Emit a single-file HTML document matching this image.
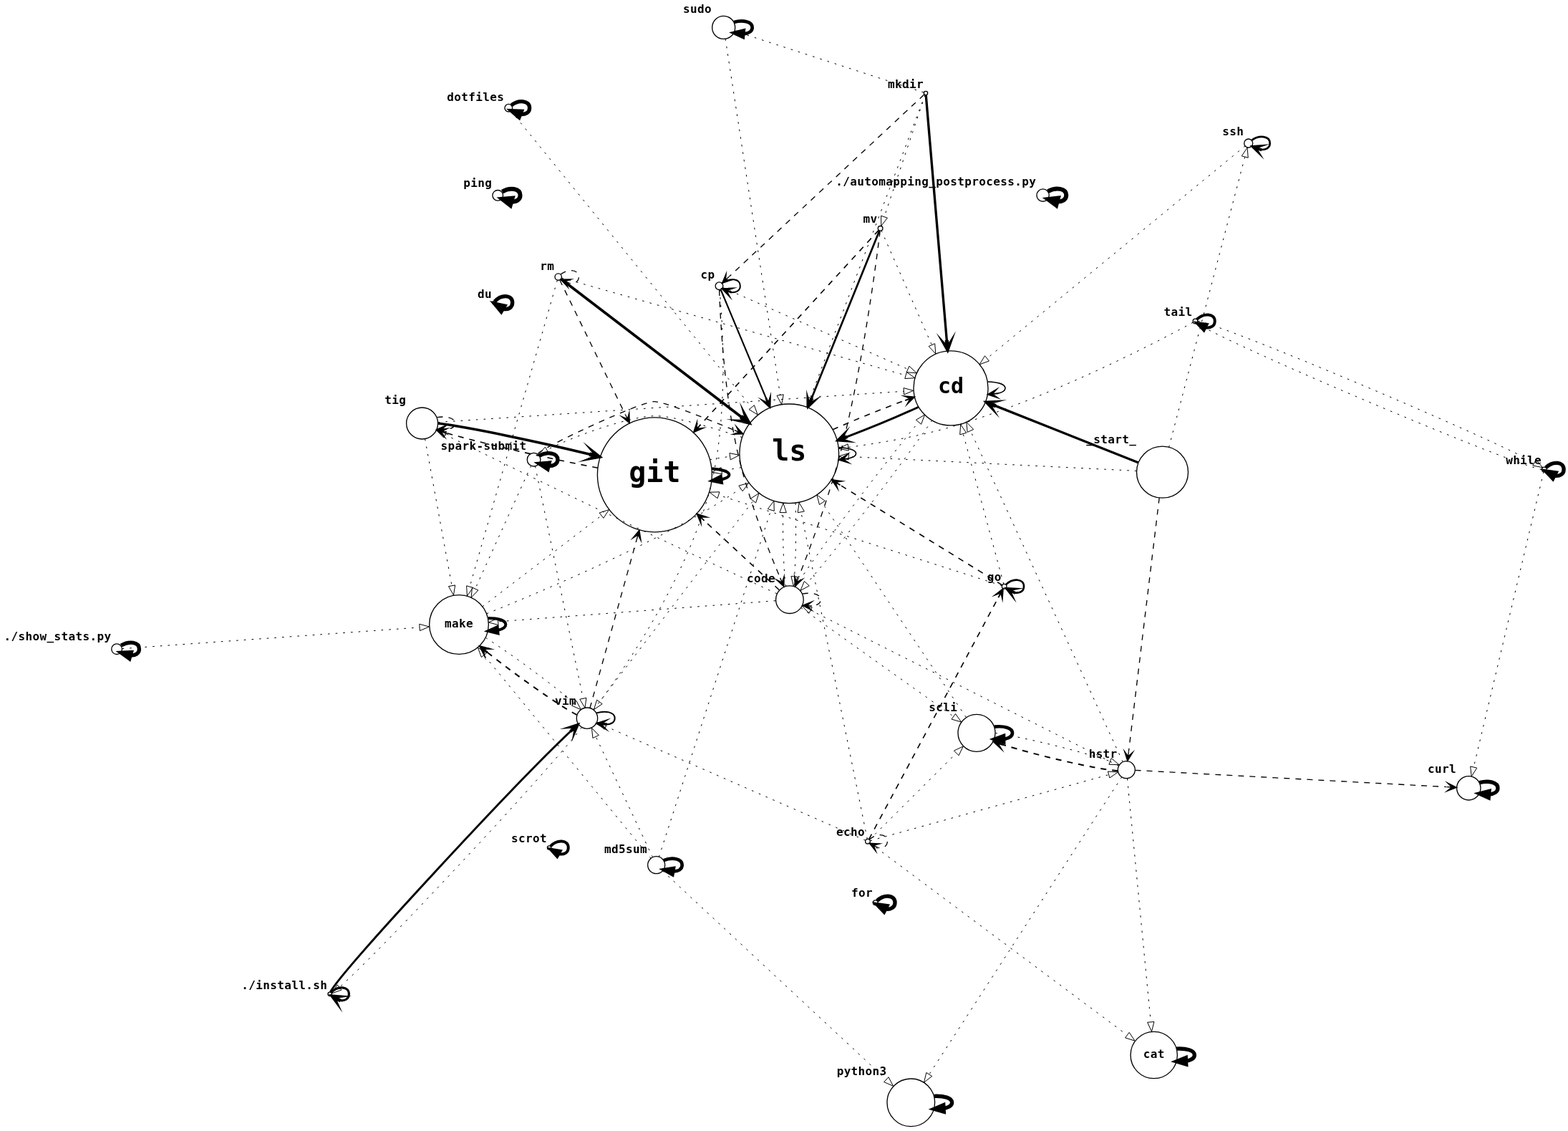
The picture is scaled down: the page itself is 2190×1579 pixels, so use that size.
<!DOCTYPE html>
<html lang="en">
<head>
<meta charset="utf-8">
<title>Command transition graph</title>
<style>
html,body{margin:0;padding:0;background:#fff;}
body{width:2190px;height:1579px;overflow:hidden;}
svg{display:block;}
svg *{stroke:#000;fill:none;stroke-miterlimit:10;}
svg polygon[fill="black"]{fill:#000;}
svg text.t{font-family:"DejaVu Sans Mono","Liberation Mono",monospace;font-weight:bold;fill:#000;stroke:none;-webkit-font-smoothing:antialiased;}
svg text.t[font-size="12.00"]{letter-spacing:0.275px;}
svg{will-change:transform;}
</style>
</head>
<body>
<svg xmlns="http://www.w3.org/2000/svg" width="2190" height="1579" viewBox="0 0 1642.5 1184.25">
<g transform="translate(116.825 1179.470)">
<g class="node">
<ellipse cx="641.2" cy="-1150.67" rx="12" ry="12"/>
<text text-anchor="middle" x="613.7" y="-1166.07" class="t" font-size="12.00">sudo</text>
</g>
<g class="node">
<ellipse cx="852.92" cy="-1081.97" rx="2" ry="2"/>
<text text-anchor="middle" x="831.92" y="-1087.37" class="t" font-size="12.00">mkdir</text>
</g>
<g class="node">
<ellipse cx="415.9" cy="-1066.45" rx="4" ry="4"/>
<text text-anchor="middle" x="381.4" y="-1073.85" class="t" font-size="12.00">dotfiles</text>
</g>
<g class="node">
<ellipse cx="404.61" cy="-974.87" rx="5.5" ry="5.5"/>
<text text-anchor="middle" x="383.61" y="-983.77" class="t" font-size="12.00">ping</text>
</g>
<g class="node">
<ellipse cx="400.45" cy="-862.52" rx="1.5" ry="1.5"/>
<text text-anchor="middle" x="390.95" y="-867.42" class="t" font-size="12.00">du</text>
</g>
<g class="node">
<ellipse cx="1190.95" cy="-1029.47" rx="4.5" ry="4.5"/>
<text text-anchor="middle" x="1174.95" y="-1037.37" class="t" font-size="12.00">ssh</text>
</g>
<g class="node">
<ellipse cx="975.63" cy="-975.02" rx="6.5" ry="6.5"/>
<text text-anchor="middle" x="863.63" y="-984.92" class="t" font-size="12.00">./automapping_postprocess.py</text>
</g>
<g class="node">
<ellipse cx="805.38" cy="-940.37" rx="2.5" ry="2.5"/>
<text text-anchor="middle" x="794.88" y="-946.27" class="t" font-size="12.00">mv</text>
</g>
<g class="node">
<ellipse cx="467.95" cy="-889.52" rx="3.5" ry="3.5"/>
<text text-anchor="middle" x="456.45" y="-896.42" class="t" font-size="12.00">rm</text>
</g>
<g class="node">
<ellipse cx="636.55" cy="-880.07" rx="4" ry="4"/>
<text text-anchor="middle" x="624.55" y="-887.47" class="t" font-size="12.00">cp</text>
</g>
<g class="node">
<ellipse cx="1135.23" cy="-843.17" rx="2.5" ry="2.5"/>
<text text-anchor="middle" x="1117.23" y="-849.07" class="t" font-size="12.00">tail</text>
</g>
<g class="node">
<ellipse cx="879.18" cy="-773.05" rx="39" ry="39"/>
<text text-anchor="middle" x="879.18" y="-767.55" class="t" font-size="22.50">cd</text>
</g>
<g class="node">
<ellipse cx="709.86" cy="-704.5" rx="52" ry="52"/>
<text text-anchor="middle" x="709.86" y="-697" class="t" font-size="30.00">ls</text>
</g>
<g class="node">
<ellipse cx="568.97" cy="-682.37" rx="60" ry="60"/>
<text text-anchor="middle" x="568.97" y="-674.87" class="t" font-size="30.00">git</text>
</g>
<g class="node">
<ellipse cx="325.38" cy="-736.22" rx="16.5" ry="16.5"/>
<text text-anchor="middle" x="297.38" y="-756.12" class="t" font-size="12.00">tig</text>
</g>
<g class="node">
<ellipse cx="442.38" cy="-698.2" rx="7" ry="7"/>
<text text-anchor="middle" x="389.88" y="-708.6" class="t" font-size="12.00">spark&#45;submit</text>
</g>
<g class="node">
<ellipse cx="1100.8" cy="-685.07" rx="27" ry="27"/>
<text text-anchor="middle" x="1047.3" y="-715.47" class="t" font-size="12.00">_start_</text>
</g>
<g class="node">
<ellipse cx="1500.77" cy="-687.92" rx="2.5" ry="2.5"/>
<text text-anchor="middle" x="1479.27" y="-693.82" class="t" font-size="12.00">while</text>
</g>
<g class="node">
<ellipse cx="363.93" cy="-525.47" rx="31" ry="31"/>
<text text-anchor="middle" x="363.93" y="-522.37" class="t" font-size="12.00">make</text>
</g>
<g class="node">
<ellipse cx="5.5" cy="-499.82" rx="5.5" ry="5.5"/>
<text text-anchor="middle" x="-56.5" y="-508.72" class="t" font-size="12.00">./show_stats.py</text>
</g>
<g class="node">
<ellipse cx="710.35" cy="-551.57" rx="14.5" ry="14.5"/>
<text text-anchor="middle" x="680.35" y="-569.47" class="t" font-size="12.00">code</text>
</g>
<g class="node">
<ellipse cx="935.2" cy="-565.45" rx="2.5" ry="2.5"/>
<text text-anchor="middle" x="924.7" y="-571.35" class="t" font-size="12.00">go</text>
</g>
<g class="node">
<ellipse cx="498.17" cy="-427.45" rx="11" ry="11"/>
<text text-anchor="middle" x="475.67" y="-441.85" class="t" font-size="12.00">vim</text>
</g>
<g class="node">
<ellipse cx="906.18" cy="-412" rx="19.5" ry="19.5"/>
<text text-anchor="middle" x="871.18" y="-434.9" class="t" font-size="12.00">scli</text>
</g>
<g class="node">
<ellipse cx="1063.15" cy="-373.45" rx="9" ry="9"/>
<text text-anchor="middle" x="1038.65" y="-385.85" class="t" font-size="12.00">hstr</text>
</g>
<g class="node">
<ellipse cx="1421.65" cy="-354.25" rx="12.5" ry="12.5"/>
<text text-anchor="middle" x="1393.65" y="-370.15" class="t" font-size="12.00">curl</text>
</g>
<g class="node">
<ellipse cx="1091.95" cy="-74.72" rx="24.5" ry="24.5"/>
<text text-anchor="middle" x="1091.95" y="-71.62" class="t" font-size="12.00">cat</text>
</g>
<g class="node">
<ellipse cx="837.4" cy="-25" rx="25" ry="25"/>
<text text-anchor="middle" x="785.9" y="-53.4" class="t" font-size="12.00">python3</text>
</g>
<g class="node">
<ellipse cx="792.17" cy="-298.45" rx="2.5" ry="2.5"/>
<text text-anchor="middle" x="774.17" y="-304.35" class="t" font-size="12.00">echo</text>
</g>
<g class="node">
<ellipse cx="800.2" cy="-234.32" rx="2.5" ry="2.5"/>
<text text-anchor="middle" x="786.2" y="-240.22" class="t" font-size="12.00">for</text>
</g>
<g class="node">
<ellipse cx="570.7" cy="-273.7" rx="9" ry="9"/>
<text text-anchor="middle" x="538.7" y="-286.1" class="t" font-size="12.00">md5sum</text>
</g>
<g class="node">
<ellipse cx="458.5" cy="-291.85" rx="2" ry="2"/>
<text text-anchor="middle" x="437.5" y="-297.25" class="t" font-size="12.00">scrot</text>
</g>
<g class="node">
<ellipse cx="228.7" cy="-138.62" rx="2" ry="2"/>
<text text-anchor="middle" x="181.2" y="-144.02" class="t" font-size="12.00">./install.sh</text>
</g>
<g class="edge">
<path stroke-width="3.5" d="M651.97,-1156.31C661.31,-1158.88 671.2,-1157 671.2,-1150.67 671.2,-1146.72 667.34,-1144.5 662.16,-1144.02"/>
<polygon fill="black" stroke-width="3.5" points="661.57,-1140.57 651.97,-1145.04 662.26,-1147.53 661.57,-1140.57"/>
</g>
<g class="edge">
<path stroke-width="0.75" stroke-dasharray="2,6" d="M643.04,-1138.74C651.14,-1086.11 683.98,-872.67 700.41,-765.92"/>
<polygon stroke-width="0.75" points="703.89,-766.34 701.95,-755.93 696.97,-765.28 703.89,-766.34"/>
</g>
<g class="edge">
<path stroke-width="0.75" stroke-dasharray="2,6" d="M850.55,-1082.75C832.14,-1088.72 711.71,-1127.8 662.3,-1143.83"/>
<polygon stroke-width="0.75" points="661.07,-1140.55 652.64,-1146.96 663.23,-1147.21 661.07,-1140.55"/>
</g>
<g class="edge">
<path stroke-width="0.75" stroke-dasharray="2,6" d="M852.25,-1079.97C847.61,-1066.15 820.17,-984.44 809.56,-952.84"/>
<polygon stroke-width="0.75" points="812.74,-951.31 806.24,-942.94 806.1,-953.54 812.74,-951.31"/>
</g>
<g class="edge">
<path stroke-dasharray="6,6" d="M851.05,-1080.23C832.89,-1063.28 687.69,-927.8 647.07,-889.9"/>
<polygon fill="black" points="639.6,-882.92 649.98,-886.45 643.25,-886.33 646.91,-889.74 646.91,-889.74 646.91,-889.74 643.25,-886.33 643.84,-893.03 639.6,-882.92 639.6,-882.92"/>
</g>
<g class="edge">
<path stroke-width="2.5" d="M853.12,-1079.67C854.88,-1058.91 868.1,-903.34 875.01,-822.11"/>
<polygon fill="black" stroke-width="2.5" points="875.86,-812.12 879.49,-822.46 876.18,-817.16 875.76,-822.14 875.01,-822.08 874.26,-822.02 874.68,-817.04 870.52,-821.7 875.86,-812.12 875.86,-812.12"/>
</g>
<g class="edge">
<path stroke-width="0.75" stroke-dasharray="2,6" d="M852.16,-1079.94C843.81,-1057.94 769.75,-862.52 731.91,-762.68"/>
<polygon stroke-width="0.75" points="735.18,-761.43 728.37,-753.32 728.64,-763.92 735.18,-761.43"/>
</g>
<g class="edge">
<path stroke-width="4" d="M418.95,-1069.4C426.67,-1075.31 437.9,-1074.32 437.9,-1066.45 437.9,-1061.53 433.51,-1059.3 428.34,-1059.76"/>
<polygon fill="black" stroke-width="4" points="426.95,-1056.55 418.95,-1063.5 429.54,-1063.05 426.95,-1056.55"/>
</g>
<g class="edge">
<path stroke-width="0.75" stroke-dasharray="2,6" d="M418.44,-1063.32C440.18,-1036.56 595.79,-844.95 670.3,-753.22"/>
<polygon stroke-width="0.75" points="673.23,-755.16 676.82,-745.19 667.79,-750.75 673.23,-755.16"/>
</g>
<g class="edge">
<path stroke-width="4.5" d="M409.23,-978.72C417.37,-983.61 428.11,-982.33 428.11,-974.87 428.11,-970.33 424.12,-968.08 419.16,-968.13"/>
<polygon fill="black" stroke-width="4.5" points="417.72,-964.45 409.23,-971.03 419.93,-972 417.72,-964.45"/>
</g>
<g class="edge">
<path stroke-width="4" d="M401.4,-863.73C408.14,-871.51 419.95,-871.1 419.95,-862.52 419.95,-857.16 415.34,-855 410.23,-856.02"/>
<polygon fill="black" stroke-width="4" points="408.18,-853.17 401.4,-861.32 411.78,-859.18 408.18,-853.17"/>
</g>
<g class="edge">
<path stroke-width="2" d="M1194.5,-1032.74C1202.37,-1038.3 1213.45,-1037.21 1213.45,-1029.47 1213.45,-1024.64 1209.12,-1022.4 1203.95,-1022.76"/>
<polygon fill="black" stroke-width="2" points="1194.5,-1026.21 1202.35,-1018.56 1199.02,-1024.03 1203.72,-1022.32 1203.89,-1022.79 1204.06,-1023.25 1199.37,-1024.97 1205.43,-1027.01 1194.5,-1026.21 1194.5,-1026.21"/>
</g>
<g class="edge">
<path stroke-width="0.75" stroke-dasharray="2,6" d="M1187.45,-1026.6C1161.18,-1004.99 993.86,-867.38 917.31,-804.42"/>
<polygon stroke-width="0.75" points="919.26,-801.49 909.32,-797.84 914.82,-806.9 919.26,-801.49"/>
</g>
<g class="edge">
<path stroke-width="4.5" d="M980.92,-979.14C989.34,-983.71 1000.13,-982.34 1000.13,-975.02 1000.13,-970.45 995.91,-968.21 990.7,-968.28"/>
<polygon fill="black" stroke-width="4.5" points="989.55,-964.51 980.92,-970.91 991.6,-972.11 989.55,-964.51"/>
</g>
<g class="edge">
<path stroke-width="0.75" stroke-dasharray="2,6" d="M806.42,-938.01C812.08,-925.17 839.6,-862.78 859.12,-818.53"/>
<polygon stroke-width="0.75" points="862.44,-819.67 863.27,-809.11 856.03,-816.85 862.44,-819.67"/>
</g>
<g class="edge">
<path stroke-width="2" d="M804.43,-938.04C797.92,-921.95 759.17,-826.27 733.34,-762.48"/>
<polygon fill="black" stroke-width="2" points="729.47,-752.92 737.4,-760.5 731.81,-757.37 733.69,-762 733.22,-762.19 732.76,-762.38 730.88,-757.75 729.05,-763.88 729.47,-752.92 729.47,-752.92"/>
</g>
<g class="edge">
<path stroke-width="1.2" stroke-dasharray="6,6" d="M803.61,-938.45C788.54,-922.01 680.7,-804.31 616.58,-734.33"/>
<polygon fill="black" stroke-width="1.2" points="609.76,-726.88 619.83,-731.21 613.21,-730.5 616.58,-734.19 616.51,-734.25 616.44,-734.32 613.06,-730.64 613.19,-737.29 609.76,-726.88 609.76,-726.88"/>
</g>
<g class="edge">
<path stroke-dasharray="6,6" d="M805.04,-937.54C802.69,-917.81 787.94,-798.99 763.46,-705 751.2,-657.91 731.32,-604.55 719.68,-574.8"/>
<polygon fill="black" points="715.93,-565.31 723.79,-572.96 717.76,-569.96 719.6,-574.61 719.6,-574.61 719.6,-574.61 717.76,-569.96 715.42,-576.27 715.93,-565.31 715.93,-565.31"/>
</g>
<g class="edge">
<path stroke-dasharray="6,6" d="M470.53,-892.16C478.08,-898.42 489.45,-897.54 489.45,-889.52 489.45,-884.52 485.01,-882.29 479.83,-882.86"/>
<polygon fill="black" points="470.53,-886.89 477.92,-878.79 475.12,-884.91 479.71,-882.92 479.71,-882.92 479.71,-882.92 475.12,-884.91 481.5,-887.05 470.53,-886.89 470.53,-886.89"/>
</g>
<g class="edge">
<path stroke-width="0.75" stroke-dasharray="2,6" d="M471.51,-888.52C502.7,-879.68 731.01,-815.01 831.7,-786.5"/>
<polygon stroke-width="0.75" points="832.94,-789.78 841.61,-783.69 831.03,-783.05 832.94,-789.78"/>
</g>
<g class="edge">
<path stroke-width="2.8" d="M471.01,-887.19C490.28,-872.44 596.19,-791.44 660.34,-742.38"/>
<polygon fill="black" stroke-width="2.8" points="668.33,-736.27 663.12,-745.92 664.9,-740.02 660.93,-743.06 660.39,-742.34 659.84,-741.63 663.81,-738.59 657.65,-738.77 668.33,-736.27 668.33,-736.27"/>
</g>
<g class="edge">
<path stroke-dasharray="6,6" d="M469.54,-886.27C477.3,-870.36 511.93,-799.34 538.16,-745.55"/>
<polygon fill="black" points="542.62,-736.41 542.29,-747.37 540.43,-740.9 538.24,-745.39 538.24,-745.39 538.24,-745.39 540.43,-740.9 534.2,-743.42 542.62,-736.41 542.62,-736.41"/>
</g>
<g class="edge">
<path stroke-width="0.75" stroke-dasharray="2,6" d="M466.92,-885.92C458.48,-856.37 400.32,-652.84 375.31,-565.33"/>
<polygon stroke-width="0.75" points="378.62,-564.15 372.5,-555.5 371.89,-566.08 378.62,-564.15"/>
</g>
<g class="edge">
<path stroke-width="1.5" d="M639.6,-883.03C647.32,-888.93 658.55,-887.95 658.55,-880.07 658.55,-875.15 654.16,-872.92 648.99,-873.38"/>
<polygon fill="black" stroke-width="1.5" points="639.6,-877.12 647.23,-869.24 644.15,-875.04 648.8,-873.19 648.89,-873.42 648.98,-873.66 644.34,-875.5 650.56,-877.6 639.6,-877.12 639.6,-877.12"/>
</g>
<g class="edge">
<path stroke-width="0.75" stroke-dasharray="2,6" d="M640.36,-878.39C662.04,-868.83 771.04,-820.75 834.03,-792.97"/>
<polygon stroke-width="0.75" points="835.61,-796.09 843.35,-788.85 832.78,-789.69 835.61,-796.09"/>
</g>
<g class="edge">
<path stroke-width="1.6" d="M638.22,-876.08C644.53,-860.96 667.53,-805.89 685.79,-762.16"/>
<polygon fill="black" stroke-width="1.6" points="689.72,-752.74 690.02,-763.7 688.07,-757.47 686.14,-762.08 685.87,-761.97 685.59,-761.85 687.52,-757.24 681.71,-760.24 689.72,-752.74 689.72,-752.74"/>
</g>
<g class="edge">
<path stroke-dasharray="6,6" d="M636.67,-875.66C637.31,-855.59 640.81,-771.15 656.27,-704 667.14,-656.76 687.94,-603.91 700.34,-574.51"/>
<polygon fill="black" points="704.34,-565.13 704.56,-576.09 702.38,-569.73 700.42,-574.33 700.42,-574.33 700.42,-574.33 702.38,-569.73 696.28,-572.56 704.34,-565.13 704.34,-565.13"/>
</g>
<g class="edge">
<path stroke-width="0.75" stroke-dasharray="2,6" d="M636.96,-875.98C638.92,-855.14 646.69,-758.85 630.57,-682.72 609.89,-585.06 540.74,-484.21 511.45,-444.75"/>
<polygon stroke-width="0.75" points="514.04,-442.36 505.23,-436.47 508.44,-446.57 514.04,-442.36"/>
</g>
<g class="edge">
<path stroke-width="3" d="M1136.94,-845.12C1144.11,-852.12 1155.73,-851.47 1155.73,-843.17 1155.73,-837.99 1151.19,-835.79 1146.04,-836.58"/>
<polygon fill="black" stroke-width="3" points="1144.25,-833.56 1136.94,-841.23 1147.44,-839.79 1144.25,-833.56"/>
</g>
<g class="edge">
<path stroke-width="0.75" stroke-dasharray="2,6" d="M1132.79,-841.84C1113.96,-831.52 989.17,-764.24 879.51,-732.45 844.59,-722.33 804.49,-715.51 772.04,-711.14"/>
<polygon stroke-width="0.75" points="772.16,-707.63 761.8,-709.81 771.26,-714.57 772.16,-707.63"/>
</g>
<g class="edge">
<path stroke-width="0.75" stroke-dasharray="2,6" d="M1138.03,-843.29C1168.44,-837.9 1434.61,-725.34 1490.52,-695.04"/>
<polygon stroke-width="0.75" points="1492.33,-698.03 1499.1,-689.89 1488.73,-692.03 1492.33,-698.03"/>
</g>
<g class="edge">
<path stroke-width="1.2" d="M917.8,-779.75C928.24,-779.4 936.18,-777.16 936.18,-773.05 936.18,-770.41 932.92,-768.55 927.83,-767.46"/>
<polygon fill="black" stroke-width="1.2" points="917.8,-766.35 928.24,-762.98 922.79,-766.8 927.75,-767.35 927.74,-767.45 927.73,-767.55 922.76,-767 927.25,-771.92 917.8,-766.35 917.8,-766.35"/>
</g>
<g class="edge">
<path stroke-width="2.2" d="M845.38,-753.29C823.78,-743.31 795.16,-731.44 769.78,-721.82"/>
<polygon fill="black" stroke-width="2.2" points="760.24,-718.26 771.18,-717.54 765.13,-719.44 769.82,-721.19 769.61,-721.76 769.4,-722.32 764.71,-720.57 768.03,-725.97 760.24,-718.26 760.24,-718.26"/>
</g>
<g class="edge">
<path stroke-width="0.75" stroke-dasharray="2,6" d="M859.55,-739.32C826.54,-691.42 760.78,-605.58 728.65,-568.89"/>
<polygon stroke-width="0.75" points="730.89,-566.15 721.6,-561.05 725.69,-570.83 730.89,-566.15"/>
</g>
<g class="edge">
<path stroke-width="1.2" stroke-dasharray="6,6" d="M755.62,-729.67C779.2,-740.1 807.91,-751.69 831.73,-760.37"/>
<polygon fill="black" stroke-width="1.2" points="841.27,-763.78 830.33,-764.65 836.52,-762.19 831.81,-760.5 831.85,-760.41 831.88,-760.32 836.59,-762 833.36,-756.17 841.27,-763.78 841.27,-763.78"/>
</g>
<g class="edge">
<path stroke-width="1.2" d="M761.76,-710.99C772.31,-710.29 779.86,-708.12 779.86,-704.5 779.86,-702.18 776.76,-700.46 771.76,-699.33"/>
<polygon fill="black" stroke-width="1.2" points="761.76,-698.01 772.26,-694.86 766.73,-698.57 771.69,-699.22 771.67,-699.32 771.66,-699.42 766.7,-698.76 771.08,-703.78 761.76,-698.01 761.76,-698.01"/>
</g>
<g class="edge">
<path stroke-width="0.75" stroke-dasharray="2,6" d="M659.61,-690.01C652.98,-688.8 646.08,-687.64 639.19,-686.57"/>
<polygon stroke-width="0.75" points="639.53,-683.08 629.12,-685.07 638.49,-690 639.53,-683.08"/>
</g>
<g class="edge">
<path stroke-width="0.75" stroke-dasharray="2,6" d="M660.41,-721.63C627.26,-732.47 586.49,-744.39 568.63,-743.97 543.36,-743.39 485.82,-723.72 456.17,-708.44"/>
<polygon stroke-width="0.75" points="457.71,-705.29 447.27,-703.46 454.29,-711.4 457.71,-705.29"/>
</g>
<g class="edge">
<path stroke-width="0.75" stroke-dasharray="2,6" d="M716.45,-652.75C717.24,-626.75 716.89,-596.48 715.37,-575.87"/>
<polygon stroke-width="0.75" points="718.84,-575.41 714.43,-565.78 711.87,-576.06 718.84,-575.41"/>
</g>
<g class="edge">
<path stroke-width="0.75" stroke-dasharray="2,6" d="M626.87,-698.22C633.75,-699.4 640.79,-700.51 647.72,-701.52"/>
<polygon stroke-width="0.75" points="647.38,-705.01 657.76,-702.92 648.34,-698.07 647.38,-705.01"/>
</g>
<g class="edge">
<path stroke-width="3" d="M628.82,-688.73C639.51,-687.9 646.97,-685.79 646.97,-682.37 646.97,-680.19 643.91,-678.54 638.9,-677.41"/>
<polygon fill="black" stroke-width="3" points="639.21,-673.92 628.82,-676.02 638.25,-680.86 639.21,-673.92"/>
</g>
<g class="edge">
<path stroke-width="1.2" stroke-dasharray="6,6" d="M509.36,-689.55C458.42,-699.21 387.65,-715.36 350.47,-726.2"/>
<polygon fill="black" stroke-width="1.2" points="340.5,-729.25 348.75,-722.02 345.25,-727.69 350.03,-726.23 350.06,-726.33 350.09,-726.42 345.31,-727.88 351.38,-730.63 340.5,-729.25 340.5,-729.25"/>
</g>
<g class="edge">
<path stroke-width="0.75" stroke-dasharray="2,6" d="M341.95,-737.33C415.15,-742.19 711.07,-761.87 829.66,-769.76"/>
<polygon stroke-width="0.75" points="829.69,-773.27 839.9,-770.44 830.16,-766.28 829.69,-773.27"/>
</g>
<g class="edge">
<path stroke-width="2.7" d="M342.13,-736.17C374.52,-732.14 447.34,-716.92 501.79,-703.52"/>
<polygon fill="black" stroke-width="2.7" points="511.73,-701.04 503.11,-707.82 507.08,-703.07 502.23,-704.28 502.03,-703.46 501.82,-702.63 506.67,-701.42 500.94,-699.09 511.73,-701.04 511.73,-701.04"/>
</g>
<g class="edge">
<path stroke-dasharray="6,6" d="M340.99,-742.5C350.66,-744.01 359.88,-741.92 359.88,-736.22 359.88,-732.67 356.28,-730.51 351.22,-729.77"/>
<polygon fill="black" points="340.99,-729.95 350.91,-725.27 345.99,-729.86 350.98,-729.77 350.98,-729.77 350.98,-729.77 345.99,-729.86 351.06,-734.27 340.99,-729.95 340.99,-729.95"/>
</g>
<g class="edge">
<path stroke-width="0.75" stroke-dasharray="2,6" d="M328.4,-719.69C334.39,-686.94 347.92,-612.99 356.44,-566.37"/>
<polygon stroke-width="0.75" points="359.93,-566.76 358.29,-556.3 353.04,-565.5 359.93,-566.76"/>
</g>
<g class="edge">
<path stroke-dasharray="6,6" d="M446.68,-704.31C447.09,-704.8 447.46,-705.19 447.75,-705.42 459.2,-714.57 553.63,-758.6 568.28,-758.97 577.3,-759.2 617.32,-743.54 652.5,-728.96"/>
<polygon fill="black" points="661.79,-725.09 654.29,-733.09 657.17,-727.02 652.56,-728.94 652.56,-728.94 652.56,-728.94 657.17,-727.02 650.83,-724.78 661.79,-725.09 661.79,-725.09"/>
</g>
<g class="edge">
<path stroke-width="4" d="M448.03,-702.44C456.58,-706.86 467.38,-705.44 467.38,-698.2 467.38,-693.67 463.16,-691.42 457.91,-691.45"/>
<polygon fill="black" stroke-width="4" points="456.86,-688.11 448.03,-693.96 458.58,-694.89 456.86,-688.11"/>
</g>
<g class="edge">
<path stroke-width="0.75" stroke-dasharray="2,6" d="M439.4,-691.64C429.95,-670.84 400.17,-605.27 380.96,-562.98"/>
<polygon stroke-width="0.75" points="384.12,-561.48 376.8,-553.82 377.75,-564.37 384.12,-561.48"/>
</g>
<g class="edge">
<path stroke-width="0.75" stroke-dasharray="2,6" d="M443.81,-691.24C450.91,-656.78 482.4,-504 493.93,-448.06"/>
<polygon stroke-width="0.75" points="497.36,-448.73 495.95,-438.23 490.51,-447.32 497.36,-448.73"/>
</g>
<g class="edge">
<path stroke-width="0.75" stroke-dasharray="2,6" d="M1107.65,-711.24C1125.57,-779.69 1173.38,-962.36 1187.18,-1015.06"/>
<polygon stroke-width="0.75" points="1183.83,-1016.1 1189.75,-1024.89 1190.6,-1014.33 1183.83,-1016.1"/>
</g>
<g class="edge">
<path stroke-width="2.5" d="M1075.38,-695.17C1038.76,-709.7 970.56,-736.77 925.02,-754.85"/>
<polygon fill="black" stroke-width="2.5" points="915.66,-758.57 923.29,-750.7 920.03,-756.03 924.68,-754.18 924.95,-754.88 925.23,-755.57 920.58,-757.42 926.61,-759.06 915.66,-758.57 915.66,-758.57"/>
</g>
<g class="edge">
<path stroke-width="0.75" stroke-dasharray="2,6" d="M1073.62,-686.43C1011.72,-689.5 858.94,-697.09 772.35,-701.39"/>
<polygon stroke-width="0.75" points="771.95,-697.91 762.13,-701.9 772.29,-704.9 771.95,-697.91"/>
</g>
<g class="edge">
<path stroke-dasharray="6,6" d="M1097.56,-658.24C1090.11,-596.62 1071.94,-446.21 1065.48,-392.72"/>
<polygon fill="black" points="1064.25,-382.59 1069.92,-391.97 1064.85,-387.55 1065.45,-392.51 1065.45,-392.51 1065.45,-392.51 1064.85,-387.55 1060.99,-393.05 1064.25,-382.59 1064.25,-382.59"/>
</g>
<g class="edge">
<path stroke-width="0.75" stroke-dasharray="2,6" d="M1497.97,-687.81C1467.56,-693.2 1201.39,-805.76 1145.48,-836.06"/>
<polygon stroke-width="0.75" points="1143.67,-833.07 1136.9,-841.21 1147.27,-839.07 1143.67,-833.07"/>
</g>
<g class="edge">
<path stroke-width="4" d="M1502.49,-689.87C1509.66,-696.87 1521.27,-696.22 1521.27,-687.92 1521.27,-682.74 1516.74,-680.54 1511.59,-681.33"/>
<polygon fill="black" stroke-width="4" points="1509.8,-678.31 1502.49,-685.98 1512.99,-684.54 1509.8,-678.31"/>
</g>
<g class="edge">
<path stroke-width="0.75" stroke-dasharray="2,6" d="M1500.18,-685.43C1494.14,-659.96 1443.52,-446.48 1426.91,-376.42"/>
<polygon stroke-width="0.75" points="1430.26,-375.38 1424.55,-366.46 1423.45,-377 1430.26,-375.38"/>
</g>
<g class="edge">
<path stroke-width="0.75" stroke-dasharray="2,6" d="M393.04,-536.93C440.3,-555.93 536.13,-596.13 612.78,-639.07 628.2,-647.7 644.34,-658.02 658.93,-667.88"/>
<polygon stroke-width="0.75" points="657.1,-670.87 667.33,-673.62 661.05,-665.08 657.1,-670.87"/>
</g>
<g class="edge">
<path stroke-width="0.75" stroke-dasharray="2,6" d="M388.66,-544.4C419.32,-567.86 472.49,-608.54 513.17,-639.67"/>
<polygon stroke-width="0.75" points="511.06,-642.47 521.13,-645.76 515.31,-636.91 511.06,-642.47"/>
</g>
<g class="edge">
<path stroke-width="3" d="M394.55,-532.22C404.76,-532.22 412.93,-529.97 412.93,-525.47 412.93,-522.66 409.73,-520.73 404.85,-519.67"/>
<polygon fill="black" stroke-width="3" points="404.83,-516.16 394.55,-518.72 404.19,-523.13 404.83,-516.16"/>
</g>
<g class="edge">
<path stroke-width="0.75" stroke-dasharray="2,6" d="M392.04,-511.62C420.29,-493.52 462.55,-462.35 484.29,-443.32"/>
<polygon stroke-width="0.75" points="486.78,-445.78 491.79,-436.44 482.05,-440.63 486.78,-445.78"/>
</g>
<g class="edge">
<path stroke-width="0.75" stroke-dasharray="2,6" d="M11.13,-500.23C46.31,-502.75 237.21,-516.41 322.6,-522.52"/>
<polygon stroke-width="0.75" points="322.49,-526.02 332.72,-523.24 322.99,-519.04 322.49,-526.02"/>
</g>
<g class="edge">
<path stroke-width="4" d="M10.11,-503.67C18.26,-508.56 29,-507.28 29,-499.82 29,-495.28 25.01,-493.03 20.05,-493.08"/>
<polygon fill="black" stroke-width="4" points="18.73,-489.82 10.11,-495.98 20.69,-496.53 18.73,-489.82"/>
</g>
<g class="edge">
<path stroke-width="0.75" stroke-dasharray="2,6" d="M716.42,-564.79C737.11,-598.37 804.06,-687.35 845.44,-737.49"/>
<polygon stroke-width="0.75" points="842.76,-739.75 851.85,-745.19 848.14,-735.27 842.76,-739.75"/>
</g>
<g class="edge">
<path stroke-width="0.75" stroke-dasharray="2,6" d="M706.19,-565.67C704.02,-583.19 703.08,-614.21 703.42,-642.49"/>
<polygon stroke-width="0.75" points="699.92,-642.82 703.6,-652.76 706.92,-642.7 699.92,-642.82"/>
</g>
<g class="edge">
<path stroke-width="1.2" stroke-dasharray="6,6" d="M699.26,-561.84C682.41,-577.43 649.29,-608.07 620.67,-634.55"/>
<polygon fill="black" stroke-width="1.2" points="613.11,-641.54 617.4,-631.44 616.72,-638.07 620.39,-634.67 620.45,-634.75 620.52,-634.82 616.85,-638.22 623.51,-638.05 613.11,-641.54 613.11,-641.54"/>
</g>
<g class="edge">
<path stroke-width="0.75" stroke-dasharray="2,6" d="M696.88,-557.84C666.35,-572.07 589.59,-607.93 525.67,-638.57 461.94,-669.11 387.17,-705.79 349.57,-724.3"/>
<polygon stroke-width="0.75" points="347.84,-721.25 340.42,-728.81 350.93,-727.53 347.84,-721.25"/>
</g>
<g class="edge">
<path stroke-width="0.75" stroke-dasharray="2,6" d="M695.46,-550.45C645.49,-546.69 482.55,-534.41 405.29,-528.59"/>
<polygon stroke-width="0.75" points="405.21,-525.08 394.97,-527.81 404.68,-532.06 405.21,-525.08"/>
</g>
<g class="edge">
<path stroke-dasharray="6,6" d="M723.7,-557.6C733.3,-559.56 742.85,-557.55 742.85,-551.57 742.85,-547.84 739.12,-545.65 733.98,-545.02"/>
<polygon fill="black" points="723.7,-545.55 733.46,-540.54 728.7,-545.29 733.69,-545.03 733.69,-545.03 733.69,-545.03 728.7,-545.29 733.92,-549.53 723.7,-545.55 723.7,-545.55"/>
</g>
<g class="edge">
<path stroke-width="0.75" stroke-dasharray="2,6" d="M722.3,-543.05C753.78,-520.62 839.42,-459.58 881.78,-429.39"/>
<polygon stroke-width="0.75" points="884.02,-432.09 890.13,-423.44 879.96,-426.39 884.02,-432.09"/>
</g>
<g class="edge">
<path stroke-width="0.75" stroke-dasharray="2,6" d="M934.49,-568.07C930.17,-584.07 907.1,-669.58 892.15,-724.98"/>
<polygon stroke-width="0.75" points="888.68,-724.39 889.46,-734.95 895.44,-726.21 888.68,-724.39"/>
</g>
<g class="edge">
<path stroke-width="1.2" stroke-dasharray="6,6" d="M932.97,-566.83C917.42,-576.42 824,-634.07 763.08,-671.66"/>
<polygon fill="black" stroke-width="1.2" points="754.34,-677.06 760.49,-667.97 758.54,-674.34 762.8,-671.72 762.85,-671.8 762.9,-671.89 758.65,-674.51 765.21,-675.63 754.34,-677.06 754.34,-677.06"/>
</g>
<g class="edge">
<path stroke-width="0.75" stroke-dasharray="2,6" d="M932.46,-566.32C908.58,-573.95 734.16,-629.64 635.87,-661.02"/>
<polygon stroke-width="0.75" points="634.78,-657.69 626.31,-664.07 636.9,-664.36 634.78,-657.69"/>
</g>
<g class="edge">
<path stroke-width="2" d="M936.92,-567.39C944.09,-574.4 955.7,-573.75 955.7,-565.45 955.7,-560.26 951.16,-558.07 946.01,-558.86"/>
<polygon fill="black" stroke-width="2" points="936.92,-563.51 943.77,-554.95 941.14,-560.78 945.59,-558.51 945.82,-558.95 946.05,-559.4 941.6,-561.67 947.87,-562.96 936.92,-563.51 936.92,-563.51"/>
</g>
<g class="edge">
<path stroke-width="0.75" stroke-dasharray="2,6" d="M504.98,-436.35C530.28,-469.46 620.12,-587.05 672.05,-655.01"/>
<polygon stroke-width="0.75" points="669.34,-657.23 678.19,-663.05 674.9,-652.98 669.34,-657.23"/>
</g>
<g class="edge">
<path stroke-dasharray="6,6" d="M501.13,-438.08C509.36,-467.73 533.1,-553.21 550.18,-614.69"/>
<polygon fill="black" points="552.86,-624.34 545.85,-615.91 551.52,-619.53 550.18,-614.71 550.18,-614.71 550.18,-614.71 551.52,-619.53 554.52,-613.5 552.86,-624.34 552.86,-624.34"/>
</g>
<g class="edge">
<path stroke-width="1.5" stroke-dasharray="6,6" d="M487.27,-431.01C466.98,-441.84 423.19,-472.84 393.6,-496.49"/>
<polygon fill="black" stroke-width="1.5" points="385.66,-502.94 390.58,-493.14 389.38,-499.59 393.26,-496.44 393.42,-496.63 393.57,-496.83 389.69,-499.98 396.26,-500.12 385.66,-502.94 385.66,-502.94"/>
</g>
<g class="edge">
<path stroke-width="1.5" d="M507.98,-432.91C517.19,-435.74 527.17,-433.92 527.17,-427.45 527.17,-423.41 523.27,-421.18 518.1,-420.77"/>
<polygon fill="black" stroke-width="1.5" points="507.98,-421.99 517.37,-416.33 512.91,-421.14 517.88,-420.54 517.91,-420.79 517.94,-421.04 512.97,-421.64 518.45,-425.26 507.98,-421.99 507.98,-421.99"/>
</g>
<g class="edge">
<path stroke-width="0.75" stroke-dasharray="2,6" d="M492.46,-417.77C458.17,-372.61 282.92,-184.73 238.71,-145.66"/>
<polygon stroke-width="0.75" points="240.88,-142.92 230.9,-139.38 236.5,-148.37 240.88,-142.92"/>
</g>
<g class="edge">
<path stroke-width="0.75" stroke-dasharray="2,6" d="M895.06,-428.56C866.51,-471.1 789.7,-585.54 744.47,-652.93"/>
<polygon stroke-width="0.75" points="741.51,-651.06 738.85,-661.31 747.33,-654.96 741.51,-651.06"/>
</g>
<g class="edge">
<path stroke-width="3.5" d="M924.7,-418.47C934.63,-419.57 943.68,-417.41 943.68,-412 943.67,-408.62 940.14,-406.5 935.07,-405.67"/>
<polygon fill="black" stroke-width="3.5" points="934.74,-402.16 924.7,-405.53 934.65,-409.16 934.74,-402.16"/>
</g>
<g class="edge">
<path stroke-width="0.75" stroke-dasharray="2,6" d="M925.88,-411.85C956.83,-407.27 1016.27,-392.67 1045.74,-382.4"/>
<polygon stroke-width="0.75" points="1047.34,-385.54 1055.44,-378.71 1044.85,-379 1047.34,-385.54"/>
</g>
<g class="edge">
<path stroke-width="0.75" stroke-dasharray="2,6" d="M1059.31,-381.8C1038.9,-426.11 942.57,-635.34 899.77,-728.33"/>
<polygon stroke-width="0.75" points="896.55,-726.94 895.55,-737.48 902.91,-729.86 896.55,-726.94"/>
</g>
<g class="edge">
<path stroke-width="0.75" stroke-dasharray="2,6" d="M1054.78,-377.68C1010.32,-400.12 801.36,-505.63 732.45,-540.42"/>
<polygon stroke-width="0.75" points="730.69,-537.39 723.34,-545.02 733.84,-543.63 730.69,-537.39"/>
</g>
<g class="edge">
<path stroke-width="1.5" stroke-dasharray="6,6" d="M1053.93,-372.35C1030.77,-374.13 969.52,-388.46 933.56,-399.76"/>
<polygon fill="black" stroke-width="1.5" points="923.71,-403 931.8,-395.6 928.38,-401.2 933.13,-399.64 933.21,-399.88 933.29,-400.11 928.54,-401.68 934.62,-404.15 923.71,-403 923.71,-403"/>
</g>
<g class="edge">
<path stroke-dasharray="6,6" d="M1072.37,-372.96C1118.88,-370.47 1328.25,-359.25 1398.55,-355.49"/>
<polygon fill="black" points="1408.94,-354.93 1399.2,-359.96 1403.95,-355.2 1398.96,-355.47 1398.96,-355.47 1398.96,-355.47 1403.95,-355.2 1398.72,-350.97 1408.94,-354.93 1408.94,-354.93"/>
</g>
<g class="edge">
<path stroke-width="0.75" stroke-dasharray="2,6" d="M1064.04,-364.18C1067.75,-325.76 1082.01,-177.83 1088.59,-109.59"/>
<polygon stroke-width="0.75" points="1092.1,-109.64 1089.58,-99.35 1085.13,-108.97 1092.1,-109.64"/>
</g>
<g class="edge">
<path stroke-width="0.75" stroke-dasharray="2,6" d="M1058.22,-365.85C1031.71,-324.91 905.3,-129.81 856.6,-54.63"/>
<polygon stroke-width="0.75" points="859.43,-52.56 851.05,-46.07 853.55,-56.37 859.43,-52.56"/>
</g>
<g class="edge">
<path stroke-width="4" d="M1432.91,-359.97C1442.32,-362.41 1452.15,-360.51 1452.15,-354.25 1452.15,-350.34 1448.31,-348.13 1443.13,-347.62"/>
<polygon fill="black" stroke-width="4" points="1442.56,-344.15 1432.91,-348.53 1443.18,-351.12 1442.56,-344.15"/>
</g>
<g class="edge">
<path stroke-width="4" d="M1115.55,-81.39C1125.73,-81.94 1134.45,-79.72 1134.45,-74.72 1134.45,-71.53 1130.87,-69.47 1125.62,-68.54"/>
<polygon fill="black" stroke-width="4" points="1125.71,-65.04 1115.55,-68.06 1125.37,-72.03 1125.71,-65.04"/>
</g>
<g class="edge">
<path stroke-width="4" d="M861.71,-31.69C871.83,-32.15 880.4,-29.92 880.4,-25 880.4,-21.92 877.05,-19.9 872.07,-18.93"/>
<polygon fill="black" stroke-width="4" points="871.9,-15.41 861.71,-18.31 871.49,-22.4 871.9,-15.41"/>
</g>
<g class="edge">
<path stroke-width="0.75" stroke-dasharray="2,6" d="M791.65,-301.04C786.44,-326.73 743.86,-536.78 722.29,-643.19"/>
<polygon stroke-width="0.75" points="718.83,-642.66 720.27,-653.16 725.69,-644.05 718.83,-642.66"/>
</g>
<g class="edge">
<path stroke-width="1.2" stroke-dasharray="6,6" d="M793.41,-300.76C805.54,-323.41 903.41,-506.1 929.06,-553.99"/>
<polygon fill="black" stroke-width="1.2" points="933.93,-563.08 925.24,-556.39 931.48,-558.72 929.12,-554.32 929.21,-554.27 929.3,-554.22 931.66,-558.63 933.18,-552.14 933.93,-563.08 933.93,-563.08"/>
</g>
<g class="edge">
<path stroke-width="0.75" stroke-dasharray="2,6" d="M789.63,-299.57C765.71,-310.06 579.54,-391.75 517.91,-418.79"/>
<polygon stroke-width="0.75" points="516.27,-415.69 508.52,-422.91 519.09,-422.1 516.27,-415.69"/>
</g>
<g class="edge">
<path stroke-width="0.75" stroke-dasharray="2,6" d="M794.15,-300.42C804.74,-310.96 855.29,-361.32 884.74,-390.65"/>
<polygon stroke-width="0.75" points="882.53,-393.39 892.09,-397.97 887.47,-388.43 882.53,-393.39"/>
</g>
<g class="edge">
<path stroke-width="0.75" stroke-dasharray="2,6" d="M794.86,-299.19C818.2,-305.65 987.41,-352.49 1044.44,-368.27"/>
<polygon stroke-width="0.75" points="1043.7,-371.7 1054.28,-370.99 1045.57,-364.95 1043.7,-371.7"/>
</g>
<g class="edge">
<path stroke-width="0.75" stroke-dasharray="2,6" d="M794.42,-296.78C816.36,-280.4 993.52,-148.19 1063.58,-95.9"/>
<polygon stroke-width="0.75" points="1066.04,-98.43 1071.96,-89.64 1061.86,-92.82 1066.04,-98.43"/>
</g>
<g class="edge">
<path stroke-dasharray="6,6" d="M793.89,-300.39C801.06,-307.4 812.67,-306.75 812.67,-298.45 812.67,-293.26 808.14,-291.07 802.99,-291.86"/>
<polygon fill="black" points="793.89,-296.51 800.75,-287.95 798.34,-294.23 802.8,-291.95 802.8,-291.95 802.8,-291.95 798.34,-294.23 804.84,-295.96 793.89,-296.51 793.89,-296.51"/>
</g>
<g class="edge">
<path stroke-width="4" d="M801.92,-236.27C809.09,-243.27 820.7,-242.62 820.7,-234.32 820.7,-229.14 816.16,-226.94 811.01,-227.73"/>
<polygon fill="black" stroke-width="4" points="809.23,-224.71 801.92,-232.38 812.41,-230.94 809.23,-224.71"/>
</g>
<g class="edge">
<path stroke-width="0.75" stroke-dasharray="2,6" d="M573.48,-282.31C588.12,-327.61 656.86,-540.41 690.8,-645.49"/>
<polygon stroke-width="0.75" points="687.47,-646.57 693.87,-655.01 694.13,-644.41 687.47,-646.57"/>
</g>
<g class="edge">
<path stroke-width="0.75" stroke-dasharray="2,6" d="M564.95,-280.7C539.85,-311.27 438.88,-434.21 390.3,-493.36"/>
<polygon stroke-width="0.75" points="387.45,-491.32 383.8,-501.27 392.86,-495.76 387.45,-491.32"/>
</g>
<g class="edge">
<path stroke-width="0.75" stroke-dasharray="2,6" d="M566.8,-281.97C555.66,-305.59 523.44,-373.9 507.43,-407.83"/>
<polygon stroke-width="0.75" points="504.12,-406.64 503.02,-417.18 510.45,-409.62 504.12,-406.64"/>
</g>
<g class="edge">
<path stroke-width="0.75" stroke-dasharray="2,6" d="M577.29,-267.55C609.61,-237.41 752.14,-104.51 811.41,-49.24"/>
<polygon stroke-width="0.75" points="813.94,-51.66 818.87,-42.28 809.17,-46.54 813.94,-51.66"/>
</g>
<g class="edge">
<path stroke-width="3.5" d="M578.44,-278.66C587.36,-282.17 597.7,-280.52 597.7,-273.7 597.7,-269.44 593.66,-267.19 588.46,-266.97"/>
<polygon fill="black" stroke-width="3.5" points="587.67,-263.55 578.44,-268.74 588.9,-270.44 587.67,-263.55"/>
</g>
<g class="edge">
<path stroke-width="3" d="M459.82,-293.43C466.78,-300.81 478.5,-300.29 478.5,-291.85 478.5,-286.58 473.92,-284.39 468.79,-285.3"/>
<polygon fill="black" stroke-width="3" points="466.87,-282.36 459.82,-290.27 470.27,-288.48 466.87,-282.36"/>
</g>
<g class="edge">
<path stroke-width="2.2" d="M229.16,-140.6C240.79,-163.06 424.34,-360.87 481.46,-414.3"/>
<polygon fill="black" stroke-width="2.2" points="488.94,-421.09 478.51,-417.7 484.83,-418.18 481.14,-414.81 481.54,-414.37 481.94,-413.92 485.64,-417.29 484.57,-411.04 488.94,-421.09 488.94,-421.09"/>
</g>
<g class="edge">
<path stroke-width="2.4" d="M230.02,-140.21C236.98,-147.59 248.7,-147.06 248.7,-138.62 248.7,-133.35 244.12,-131.17 238.99,-132.07"/>
<polygon fill="black" stroke-width="2.4" points="230.02,-137.04 236.59,-128.26 234.06,-134.01 238.43,-131.58 238.77,-132.2 239.11,-132.81 234.74,-135.23 240.95,-136.13 230.02,-137.04 230.02,-137.04"/>
</g>
</g>
</svg>
</body>
</html>
